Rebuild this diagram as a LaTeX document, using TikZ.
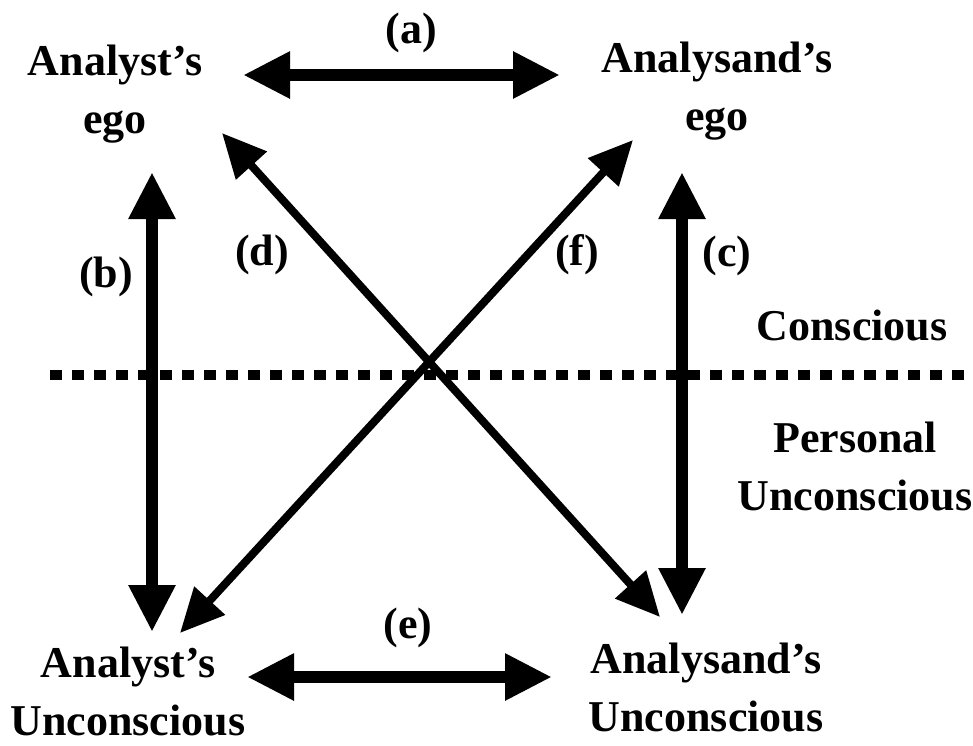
\documentclass[tikz,border=0pt]{standalone}
\usepackage{fontspec}
\setmainfont{Liberation Serif}
\usetikzlibrary{arrows.meta}
\begin{document}
\begin{tikzpicture}[x=1pt,y=-1pt,
  lbl/.style={font=\fontsize{44}{58}\selectfont\bfseries, align=center, inner sep=0pt},
  tag/.style={font=\fontsize{44}{58}\selectfont\bfseries, inner sep=0pt},
  biarrow/.style={line width=12pt, {Triangle[length=47pt,width=44pt]}-{Triangle[length=47pt,width=44pt]}},
  diagarrow/.style={line width=8pt, {Triangle[length=44pt,width=40pt]}-{Triangle[length=44pt,width=40pt]}},
  divider/.style={line width=10pt, dash pattern=on 12pt off 10pt}]
\useasboundingbox (0,0) rectangle (973,745);
% text blocks
\node[lbl] (ae) at (115,94) {Analyst’s\\ego};
\node[lbl] (de) at (717,91) {Analysand’s\\ego};
\node[lbl] (au) at (128,691) {Analyst’s\\Unconscious};
\node[lbl] (du) at (706,687) {Analysand’s\\Unconscious};
\node[tag, anchor=base] (cons) at (852,340) {Conscious};
\node[lbl] (pers) at (855,466) {Personal\\Unconscious};
% tags
\node[tag] (ta) at (411,33) {(a)};
\node[tag] (tb) at (106,277) {(b)};
\node[tag] (tc) at (727,256) {(c)};
\node[tag] (td) at (262,255) {(d)};
\node[tag] (tf) at (577,255) {(f)};
\node[tag] (te) at (408,628) {(e)};
% arrow end points
\coordinate (a1) at (243,75);
\coordinate (a2) at (560,75);
\coordinate (b1) at (152,172);
\coordinate (b2) at (152,632);
\coordinate (c1) at (682,172);
\coordinate (c2) at (682,615);
\coordinate (e1) at (247,677);
\coordinate (e2) at (552,677);
\coordinate (d1) at (222,133);
\coordinate (d2) at (660,617);
\coordinate (f1) at (633,140);
\coordinate (f2) at (180,633);
\coordinate (l1) at (50,375);
\coordinate (l2) at (973,375);
% divider
\draw[divider] (l1) -- (l2);
% arrows
\draw[biarrow] (a1) -- (a2);
\draw[biarrow] (b1) -- (b2);
\draw[biarrow] (c1) -- (c2);
\draw[biarrow] (e1) -- (e2);
\draw[diagarrow] (d1) -- (d2);
\draw[diagarrow] (f1) -- (f2);
\end{tikzpicture}
\end{document}
